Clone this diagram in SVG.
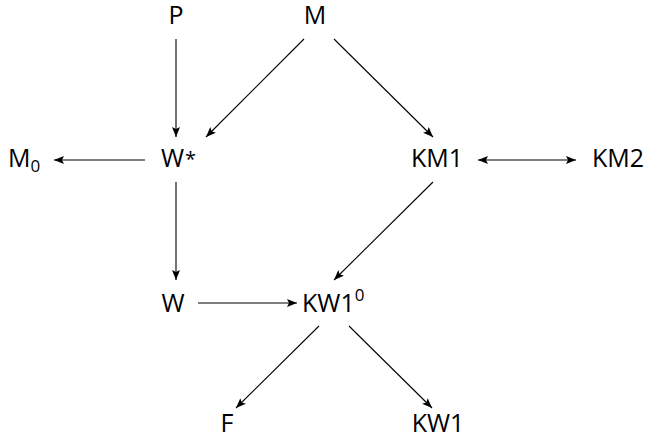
<svg xmlns="http://www.w3.org/2000/svg" width="647" height="438" viewBox="0 0 647 438">
<style>
text{font-family:"Open Sans",sans-serif;font-size:25px;fill:#000}
.m{text-anchor:middle}
.s{font-size:17px}
.a{font-size:20px}
.e{stroke:#000;stroke-width:1.1;fill:none;marker-end:url(#ah)}
</style>
<defs>
<marker id="ah" viewBox="0 0 10 8" refX="10" refY="4" markerWidth="10" markerHeight="8" markerUnits="userSpaceOnUse" orient="auto-start-reverse">
<path d="M0,0 L10,4 L0,8 L2,4 Z" fill="#000"/>
</marker>
</defs>
<rect width="647" height="438" fill="#fff"/>
<g id="connectors">
<line class="e" x1="176" y1="39" x2="176" y2="137"/>
<line class="e" x1="304" y1="39" x2="206" y2="137"/>
<line class="e" x1="334" y1="39" x2="433" y2="137"/>
<line class="e" x1="145" y1="160" x2="54" y2="160"/>
<line class="e" x1="478" y1="160" x2="576" y2="160" style="marker-start:url(#ah)"/>
<line class="e" x1="433" y1="182" x2="334" y2="280"/>
<line class="e" x1="176" y1="182" x2="176" y2="280"/>
<line class="e" x1="198" y1="303" x2="297" y2="303"/>
<line class="e" x1="319" y1="326" x2="236" y2="408"/>
<line class="e" x1="349" y1="326" x2="432" y2="408"/>
</g>
<g id="P"><text class="m" x="176" y="24">P</text></g>
<g id="M"><text class="m" x="315" y="24">M</text></g>
<g id="Wstar"><text x="161" y="167">W<tspan class="a" dx="1" dy="-1">*</tspan></text></g>
<g id="M0"><text x="8" y="167">M<tspan class="s" dy="5">0</tspan></text></g>
<g id="KM1"><text class="m" x="437" y="167">KM1</text></g>
<g id="KM2"><text class="m" x="618" y="167">KM2</text></g>
<g id="W"><text class="m" x="173" y="312">W</text></g>
<g id="KW10"><text x="302" y="312">KW1<tspan class="s" dy="-11">0</tspan></text></g>
<g id="F"><text class="m" x="227" y="432">F</text></g>
<g id="KW1"><text class="m" x="438" y="432">KW1</text></g>
</svg>
